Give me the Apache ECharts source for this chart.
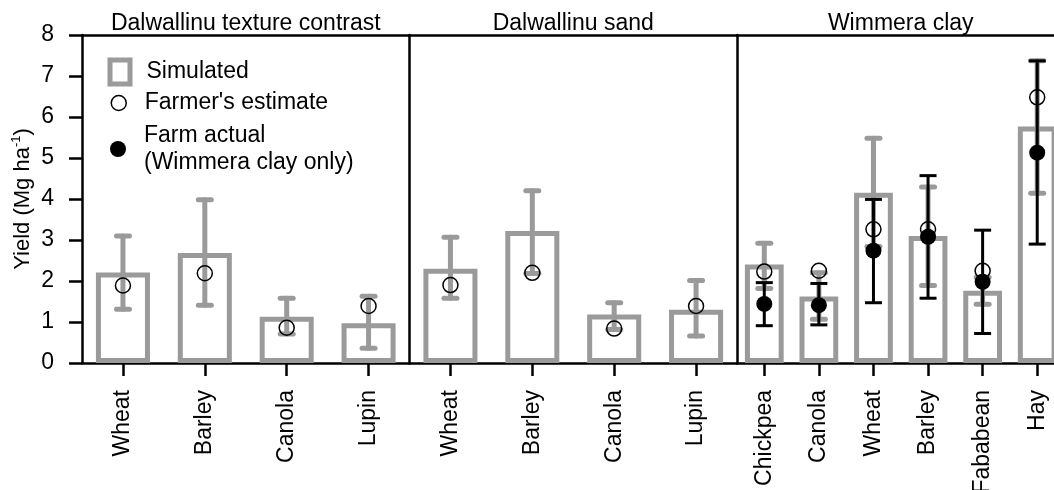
<!DOCTYPE html>
<html><head><meta charset="utf-8">
<script src="https://cdn.jsdelivr.net/npm/echarts@6/dist/echarts.min.js"></script>
<style>html,body{margin:0;padding:0;background:#fff}#c{width:1054px;height:490px}</style>
</head><body><div id="c"></div>
<script>
// ---- data ----
const panelTitles = ['Dalwallinu texture contrast', 'Dalwallinu sand', 'Wimmera clay'];
const yTicks = [0, 1, 2, 3, 4, 5, 6, 7, 8];

const p1Cats = ['Wheat', 'Barley', 'Canola', 'Lupin'];
const p1Sim = [2.21, 2.68, 1.13, 0.97];
const p1SimLo = [1.31, 1.41, 0.71, 0.36];
const p1SimHi = [3.10, 3.98, 1.58, 1.63];
const p1Est = [1.89, 2.19, 0.86, 1.39];

const p2Cats = ['Wheat', 'Barley', 'Canola', 'Lupin'];
const p2Sim = [2.30, 3.22, 1.18, 1.30];
const p2SimLo = [1.58, 2.18, 0.82, 0.66];
const p2SimHi = [3.07, 4.20, 1.47, 2.01];
const p2Est = [1.90, 2.20, 0.84, 1.39];

const p3Cats = ['Chickpea', 'Canola', 'Wheat', 'Barley', 'Fababean', 'Hay'];
const p3Sim = [2.40, 1.62, 4.15, 3.10, 1.76, 5.77];
const p3SimLo = [1.82, 1.07, 2.84, 1.89, 1.43, 4.14];
const p3SimHi = [2.92, 2.20, 5.48, 4.29, 2.09, 7.37];
const p3Est = [2.23, 2.25, 3.26, 3.26, 2.25, 6.48];
const p3Act = [1.44, 1.41, 2.74, 3.08, 1.98, 5.13];
const p3ActLo = [0.91, 0.93, 1.47, 1.58, 0.72, 2.90];
const p3ActHi = [1.96, 1.94, 3.99, 4.57, 3.24, 7.37];

// ---- styling ----
const FONT = 'Liberation Sans, Arial, Helvetica, sans-serif';
const FS = 23;
const GRAY = '#9a9a9a';
const BLACK = '#000';
const AXW = 2.5;

const panels = [
  {cats: p1Cats, sim: p1Sim, lo: p1SimLo, hi: p1SimHi, est: p1Est, bw: '66%'},
  {cats: p2Cats, sim: p2Sim, lo: p2SimLo, hi: p2SimHi, est: p2Est, bw: '66%'},
  {cats: p3Cats, sim: p3Sim, lo: p3SimLo, hi: p3SimHi, est: p3Est, act: p3Act, alo: p3ActLo, ahi: p3ActHi, bw: '71%'}
];

const gridLefts = [82, 409.5, 737];
const grids = gridLefts.map(l => ({left: l, width: 327.5, top: 35, height: 328,
  containLabel: false, outerBoundsMode: 'none'}));

function errRender(capW, lw, color) {
  return function (params, api) {
    const x = api.value(0);
    const a = api.coord([x, api.value(1)]);
    const b = api.coord([x, api.value(2)]);
    const st = {stroke: color, lineWidth: lw, lineCap: lw > 4 ? 'round' : 'butt'};
    const hw = lw > 4 ? (capW - lw) / 2 : capW / 2;
    return {
      type: 'group',
      children: [
        {type: 'line', shape: {x1: a[0], y1: a[1], x2: b[0], y2: b[1]}, style: st},
        {type: 'line', shape: {x1: a[0] - hw, y1: a[1], x2: a[0] + hw, y2: a[1]}, style: st},
        {type: 'line', shape: {x1: b[0] - hw, y1: b[1], x2: b[0] + hw, y2: b[1]}, style: st}
      ]
    };
  };
}

const xAxes = [], yAxes = [], series = [];
panels.forEach((p, i) => {
  xAxes.push({
    type: 'category', gridIndex: i, data: p.cats, position: 'bottom',
    axisLine: {show: true, lineStyle: {color: BLACK, width: AXW}},
    axisTick: {show: true, alignWithLabel: true, length: 13, lineStyle: {color: BLACK, width: AXW}},
    axisLabel: {rotate: 90, margin: 27, fontSize: FS, color: BLACK, fontFamily: FONT, interval: 0},
    splitLine: {show: false}
  });
  xAxes.push({
    type: 'category', gridIndex: i, data: p.cats, position: 'top',
    axisLine: {show: true, lineStyle: {color: BLACK, width: AXW}},
    axisTick: {show: false}, axisLabel: {show: false}, splitLine: {show: false},
    name: panelTitles[i], nameLocation: 'middle', nameGap: 0,
    nameTextStyle: {fontSize: FS, color: BLACK, fontFamily: FONT}
  });
  const y = {
    type: 'value', gridIndex: i, min: 0, max: 8, interval: 1,
    axisLine: {show: true, lineStyle: {color: BLACK, width: AXW}},
    axisTick: {show: i === 0, length: 13, lineStyle: {color: BLACK, width: AXW}},
    axisLabel: {show: i === 0, fontSize: FS, color: BLACK, fontFamily: FONT, margin: 28,
      formatter: v => yTicks.indexOf(v) >= 0 ? String(v) : ''},
    splitLine: {show: false}
  };
  if (i === 0) {
    y.name = 'Yield (Mg ha{sup|-1})';
    y.nameLocation = 'middle';
    y.nameGap = 46;
    y.nameTextStyle = {fontSize: 22, color: BLACK, fontFamily: FONT, lineHeight: 26,
      rich: {sup: {fontSize: 13, fontFamily: FONT, color: BLACK, verticalAlign: 'top', lineHeight: 26}}};
  }
  yAxes.push(y);

  const xi = i * 2;
  series.push({
    name: 'Simulated', type: 'bar', xAxisIndex: xi, yAxisIndex: i, data: p.sim,
    barWidth: p.bw, z: 2,
    itemStyle: {color: '#fff', borderColor: GRAY, borderWidth: 5}
  });
  series.push({
    name: 'simErr', type: 'custom', xAxisIndex: xi, yAxisIndex: i, z: 3,
    data: p.cats.map((c, k) => [k, p.lo[k], p.hi[k]]),
    encode: {x: 0, y: [1, 2]},
    renderItem: errRender(18, 5, GRAY)
  });
  series.push({
    name: "Farmer's estimate", type: 'scatter', xAxisIndex: xi, yAxisIndex: i, data: p.est,
    symbol: 'circle', symbolSize: 15, z: 4,
    itemStyle: {color: 'rgba(0,0,0,0)', borderColor: BLACK, borderWidth: 1.5, opacity: 1}
  });
  if (p.act) {
    series.push({
      name: 'actErr', type: 'custom', xAxisIndex: xi, yAxisIndex: i, z: 5,
      data: p.cats.map((c, k) => [k, p.alo[k], p.ahi[k]]),
      encode: {x: 0, y: [1, 2]},
      renderItem: errRender(17, 3, BLACK)
    });
    series.push({
      name: 'Farm actual\n(Wimmera clay only)', type: 'scatter', xAxisIndex: xi, yAxisIndex: i, data: p.act,
      symbol: 'circle', symbolSize: 16, z: 6,
      itemStyle: {color: BLACK, opacity: 1}
    });
  }
});

const legTxt = {fontSize: FS, color: BLACK, fontFamily: FONT, lineHeight: 26};
const legends = [
  {data: ['Simulated'], left: 107.5, top: 57.5, itemWidth: 20, itemHeight: 24,
   itemStyle: {color: '#fff', borderColor: GRAY, borderWidth: 5},
   textStyle: Object.assign({}, legTxt, {padding: [0, 0, 0, 11.5]})},
  {data: ["Farmer's estimate"], left: 110.5, top: 90, itemWidth: 15, itemHeight: 15,
   itemStyle: {color: '#fff', borderColor: BLACK, borderWidth: 1.5, opacity: 1},
   textStyle: Object.assign({}, legTxt, {padding: [0, 0, 0, 13.5]})},
  {data: ['Farm actual\n(Wimmera clay only)'], left: 110, top: 122, itemWidth: 16, itemHeight: 16,
   itemStyle: {color: BLACK, borderWidth: 0, opacity: 1},
   textStyle: Object.assign({}, legTxt, {lineHeight: 27, padding: [0, 0, 0, 13]})}
].map(l => Object.assign({orient: 'vertical', padding: 0, selectedMode: false, icon: l.data[0] === 'Simulated' ? 'rect' : 'circle'}, l));

const chart = echarts.init(document.getElementById('c'), null, {renderer: 'canvas'});
chart.setOption({
  animation: false,
  backgroundColor: '#fff',
  textStyle: {fontFamily: FONT},
  grid: grids,
  xAxis: xAxes,
  yAxis: yAxes,
  legend: legends,
  series: series
});
</script></body></html>
